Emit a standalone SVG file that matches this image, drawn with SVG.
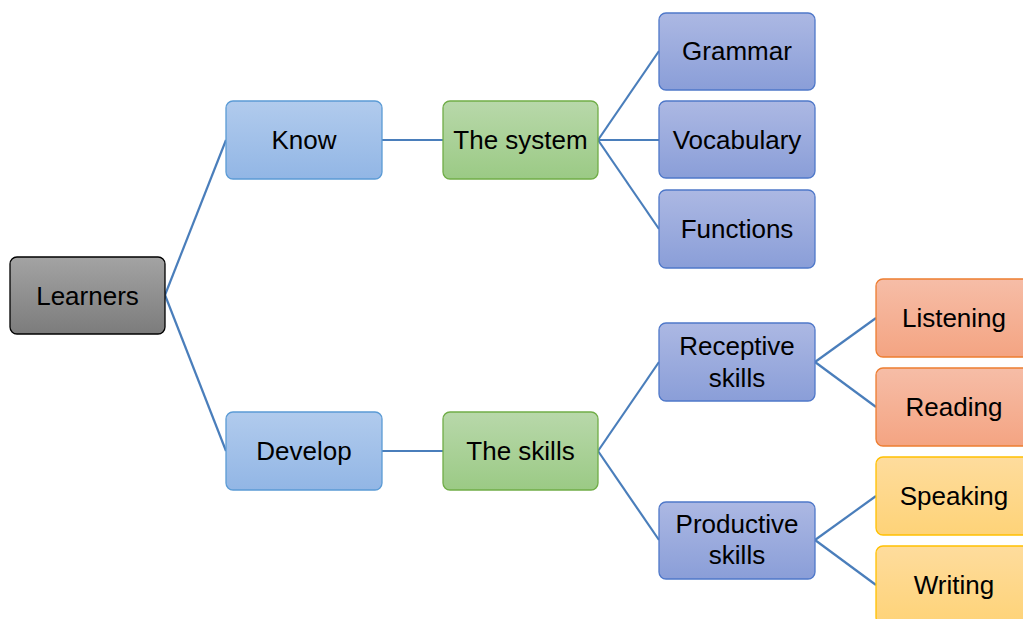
<svg xmlns="http://www.w3.org/2000/svg" width="1023" height="619" viewBox="0 0 1023 619">
<defs>
<linearGradient id="gGray" x1="0" y1="0" x2="0" y2="1"><stop offset="0" stop-color="#a3a3a3"/><stop offset="1" stop-color="#7c7c7c"/></linearGradient>
<linearGradient id="gBlue" x1="0" y1="0" x2="0" y2="1"><stop offset="0" stop-color="#b1cbed"/><stop offset="1" stop-color="#92b6e5"/></linearGradient>
<linearGradient id="gGreen" x1="0" y1="0" x2="0" y2="1"><stop offset="0" stop-color="#b8d8aa"/><stop offset="1" stop-color="#9bca85"/></linearGradient>
<linearGradient id="gIndigo" x1="0" y1="0" x2="0" y2="1"><stop offset="0" stop-color="#acb8e3"/><stop offset="1" stop-color="#8a9ed8"/></linearGradient>
<linearGradient id="gOrange" x1="0" y1="0" x2="0" y2="1"><stop offset="0" stop-color="#f6bda7"/><stop offset="1" stop-color="#f4a482"/></linearGradient>
<linearGradient id="gYellow" x1="0" y1="0" x2="0" y2="1"><stop offset="0" stop-color="#fedc9d"/><stop offset="1" stop-color="#fed378"/></linearGradient>
</defs>
<style>
rect{stroke-width:1.3}
.gray{fill:url(#gGray);stroke:#000}
.blue{fill:url(#gBlue);stroke:#5b9bd5}
.green{fill:url(#gGreen);stroke:#70ad47}
.indigo{fill:url(#gIndigo);stroke:#4f78c9}
.orange{fill:url(#gOrange);stroke:#ed7d31}
.yellow{fill:url(#gYellow);stroke:#ffc000}
text{font-family:"Liberation Sans",Arial,sans-serif;font-size:26px;fill:#000;text-anchor:middle}
#connectors line{stroke:#4a7ebb;stroke-width:2.2}
</style>
<g id="connectors">
<line x1="165" y1="295" x2="226" y2="140"/>
<line x1="165" y1="295" x2="226" y2="451"/>
<line x1="382" y1="140" x2="443" y2="140"/>
<line x1="382" y1="451" x2="443" y2="451"/>
<line x1="598" y1="140" x2="659" y2="51"/>
<line x1="598" y1="140" x2="659" y2="140"/>
<line x1="598" y1="140" x2="659" y2="229"/>
<line x1="598" y1="451" x2="659" y2="362"/>
<line x1="598" y1="451" x2="659" y2="540"/>
<line x1="815" y1="362" x2="876" y2="318"/>
<line x1="815" y1="362" x2="876" y2="407"/>
<line x1="815" y1="540" x2="876" y2="496"/>
<line x1="815" y1="540" x2="876" y2="585"/>
</g>
<g id="learners"><rect class="gray" x="10" y="257" width="155" height="77" rx="7"/><text x="87.5" y="304.5">Learners</text></g>
<g id="know"><rect class="blue" x="226" y="101" width="156" height="78" rx="7"/><text x="304" y="149">Know</text></g>
<g id="develop"><rect class="blue" x="226" y="412" width="156" height="78" rx="7"/><text x="304" y="460">Develop</text></g>
<g id="system"><rect class="green" x="443" y="101" width="155" height="78" rx="7"/><text x="520.5" y="149">The system</text></g>
<g id="skills"><rect class="green" x="443" y="412" width="155" height="78" rx="7"/><text x="520.5" y="460">The skills</text></g>
<g id="grammar"><rect class="indigo" x="659" y="13" width="156" height="77" rx="7"/><text x="737" y="60">Grammar</text></g>
<g id="vocabulary"><rect class="indigo" x="659" y="101" width="156" height="77" rx="7"/><text x="737" y="149">Vocabulary</text></g>
<g id="functions"><rect class="indigo" x="659" y="190" width="156" height="78" rx="7"/><text x="737" y="238">Functions</text></g>
<g id="receptive"><rect class="indigo" x="659" y="323" width="156" height="78" rx="7"/><text x="737" y="355">Receptive</text><text x="737" y="387">skills</text></g>
<g id="productive"><rect class="indigo" x="659" y="502" width="156" height="77" rx="7"/><text x="737" y="533">Productive</text><text x="737" y="564">skills</text></g>
<g id="listening"><rect class="orange" x="876" y="279" width="156" height="78" rx="7"/><text x="954" y="327">Listening</text></g>
<g id="reading"><rect class="orange" x="876" y="368" width="156" height="78" rx="7"/><text x="954" y="416">Reading</text></g>
<g id="speaking"><rect class="yellow" x="876" y="457" width="156" height="78" rx="7"/><text x="954" y="505">Speaking</text></g>
<g id="writing"><rect class="yellow" x="876" y="546" width="156" height="78" rx="7"/><text x="954" y="594">Writing</text></g>
</svg>
